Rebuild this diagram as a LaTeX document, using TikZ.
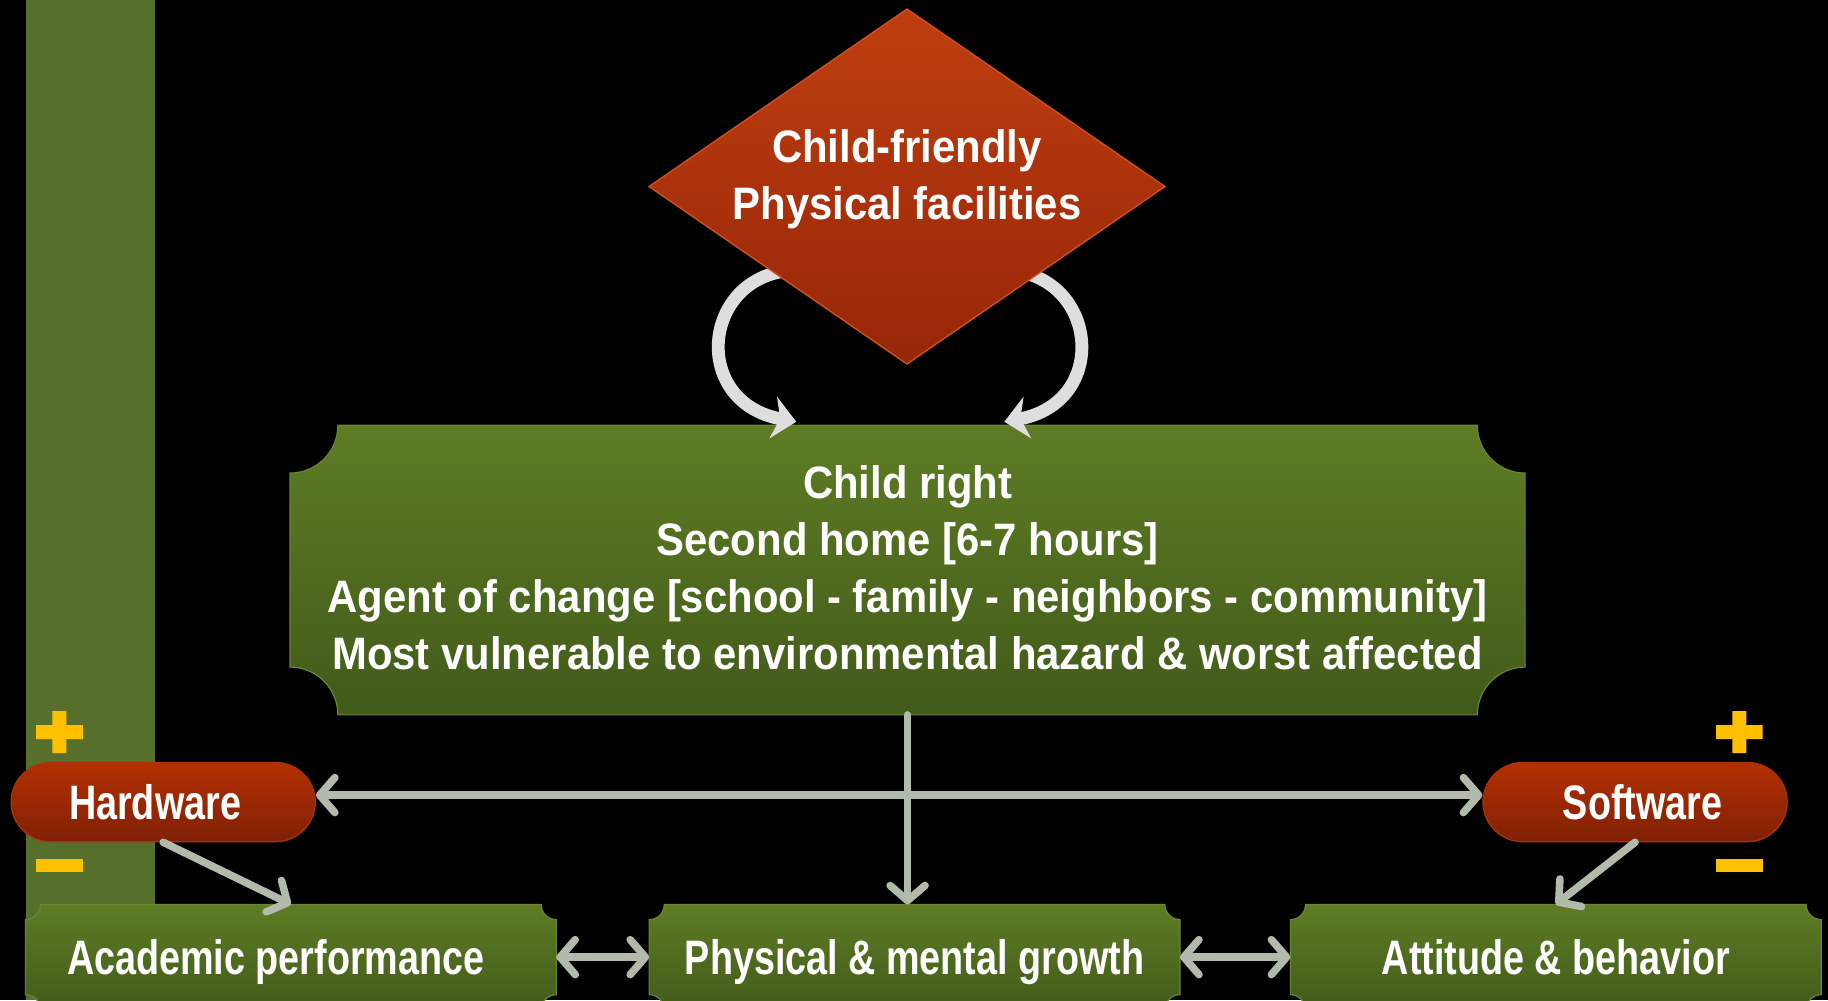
\documentclass[tikz,border=0pt]{standalone}
\usepackage{fontspec}
\setmainfont{Liberation Sans}
\newfontfamily\fA{Liberation Sans}[FakeStretch=0.92]
\newfontfamily\fB{Liberation Sans}[FakeStretch=0.78]
\usetikzlibrary{shapes.geometric,arrows.meta,calc}
\definecolor{bargreen}{RGB}{86,112,44}
\definecolor{gtop}{RGB}{94,124,36}
\definecolor{gbot}{RGB}{66,90,26}
\definecolor{gedge}{RGB}{104,134,52}
\definecolor{rtop}{RGB}{180,48,2}
\definecolor{rbot}{RGB}{128,32,6}
\definecolor{redge}{RGB}{170,52,12}
\definecolor{dtop}{RGB}{192,62,16}
\definecolor{dbot}{RGB}{150,38,8}
\definecolor{dedge}{RGB}{205,80,35}
\definecolor{argrey}{RGB}{178,186,172}
\definecolor{curvgrey}{RGB}{222,222,222}
\definecolor{signy}{RGB}{255,192,0}
\pgfdeclarelayer{bg}
\pgfdeclarelayer{mid}
\pgfsetlayers{bg,mid,main}
\newcommand\notchfill[3]{%
  \path[#3] ($(#1.north west)+(#2pt,0)$) -- ($(#1.north east)+(-#2pt,0)$)
    arc[start angle=180,end angle=270,radius=#2pt]
    -- ($(#1.south east)+(0,#2pt)$) arc[start angle=90,end angle=180,radius=#2pt]
    -- ($(#1.south west)+(#2pt,0)$) arc[start angle=0,end angle=90,radius=#2pt]
    -- ($(#1.north west)+(0,-#2pt)$) arc[start angle=270,end angle=360,radius=#2pt]
    -- cycle;}
\tikzset{
  boxtext/.style={text=white, font=\fA\bfseries\fontsize{39}{49}\selectfont, align=center, inner sep=0pt},
  lbl/.style={text=white, font=\fB\bfseries\fontsize{41.5}{49}\selectfont, inner sep=0pt, text height=29.5pt, text depth=0pt},
  pill/.style={lbl, rectangle, rounded corners=34pt, minimum width=261pt, minimum height=68pt,
    top color=rtop, bottom color=rbot, draw=redge, line width=1pt},
  gbox/.style={lbl, rectangle, minimum width=455pt, minimum height=90pt},
  gfill/.style={top color=gtop, bottom color=gbot, draw=gedge, line width=1pt},
  dia/.style={diamond, minimum width=443pt, minimum height=305pt, inner sep=0pt,
    top color=dtop, bottom color=dbot, draw=dedge, line width=1.2pt},
  tipb/.tip={Straight Barb[length=13pt,width=30pt,round]},
  conn/.style={draw=argrey, line width=6.5pt, line cap=round, -tipb},
  dconn/.style={conn, tipb-tipb},
  curv/.style={draw=curvgrey, line width=11pt, -{Stealth[length=20pt,width=36pt,inset=6pt]}},
}
\begin{document}
\begin{tikzpicture}[x=1pt,y=1pt]
\useasboundingbox (0,0) rectangle (1568,858);
\begin{pgfonlayer}{bg}
  \fill[black] (0,0) rectangle (1568,858);
  \fill[bargreen] (22,0) rectangle (133,858);
\end{pgfonlayer}

% nodes
\node[dia] (dia) at (778,698) {};
\node[boxtext] (diatext) at (778,704) {Child-friendly\\Physical facilities};
\node[boxtext, minimum width=1059pt, minimum height=248pt] (big) at (778.5,369) {};
\node[boxtext] (bigtext) at (778.5,371)
  {Child right\\Second home [6-7 hours]\\Agent of change [school - family - neighbors - community]\\Most vulnerable to environmental hazard \& worst affected};
\node[pill] (hw) at (140,170) {\hspace*{-14pt}Hardware};
\node[pill] (sw) at (1402.5,170) {\hspace*{13pt}Software};
\node[gbox] (acad) at (249.5,37) {\hspace*{-26pt}Academic performance};
\node[gbox] (phys) at (784.5,37) {Physical \& mental growth};
\node[gbox] (att) at (1334.5,37) {Attitude \& behavior};

% plus / minus signs
\fill[signy] (31,224) rectangle (71,236) (45,212) rectangle (57,248);
\fill[signy] (31,110) rectangle (71,121);
\fill[signy] (1472,224) rectangle (1512,236) (1486,212) rectangle (1498,248);
\fill[signy] (1472,110) rectangle (1512,121);

\begin{pgfonlayer}{mid}
  \notchfill{big}{41}{gfill}
  \notchfill{acad}{13}{gfill}
  \notchfill{phys}{13}{gfill}
  \notchfill{att}{13}{gfill}
  \coordinate (lcs) at (678,626);
  \coordinate (rcs) at (866,626);
  \draw[curv] (lcs) .. controls (602,620) and (592,513) .. ([xshift=-95.5pt,yshift=3pt]big.north);
  \draw[curv] (rcs) .. controls (942,620) and (952,513) .. ([xshift=83pt,yshift=3pt]big.north);
\end{pgfonlayer}

% connectors
\draw[dconn] ([yshift=6pt]hw.east) -- ([yshift=6pt]sw.west);
\draw[conn] (big.south) -- (big.south |- phys.north);
\draw[conn] (hw.south) -- (acad.north);
\draw[conn] (sw.south) -- (att.north);
\draw[dconn] (acad.east) -- (phys.west);
\draw[dconn] (phys.east) -- (att.west);
\end{tikzpicture}
\end{document}
